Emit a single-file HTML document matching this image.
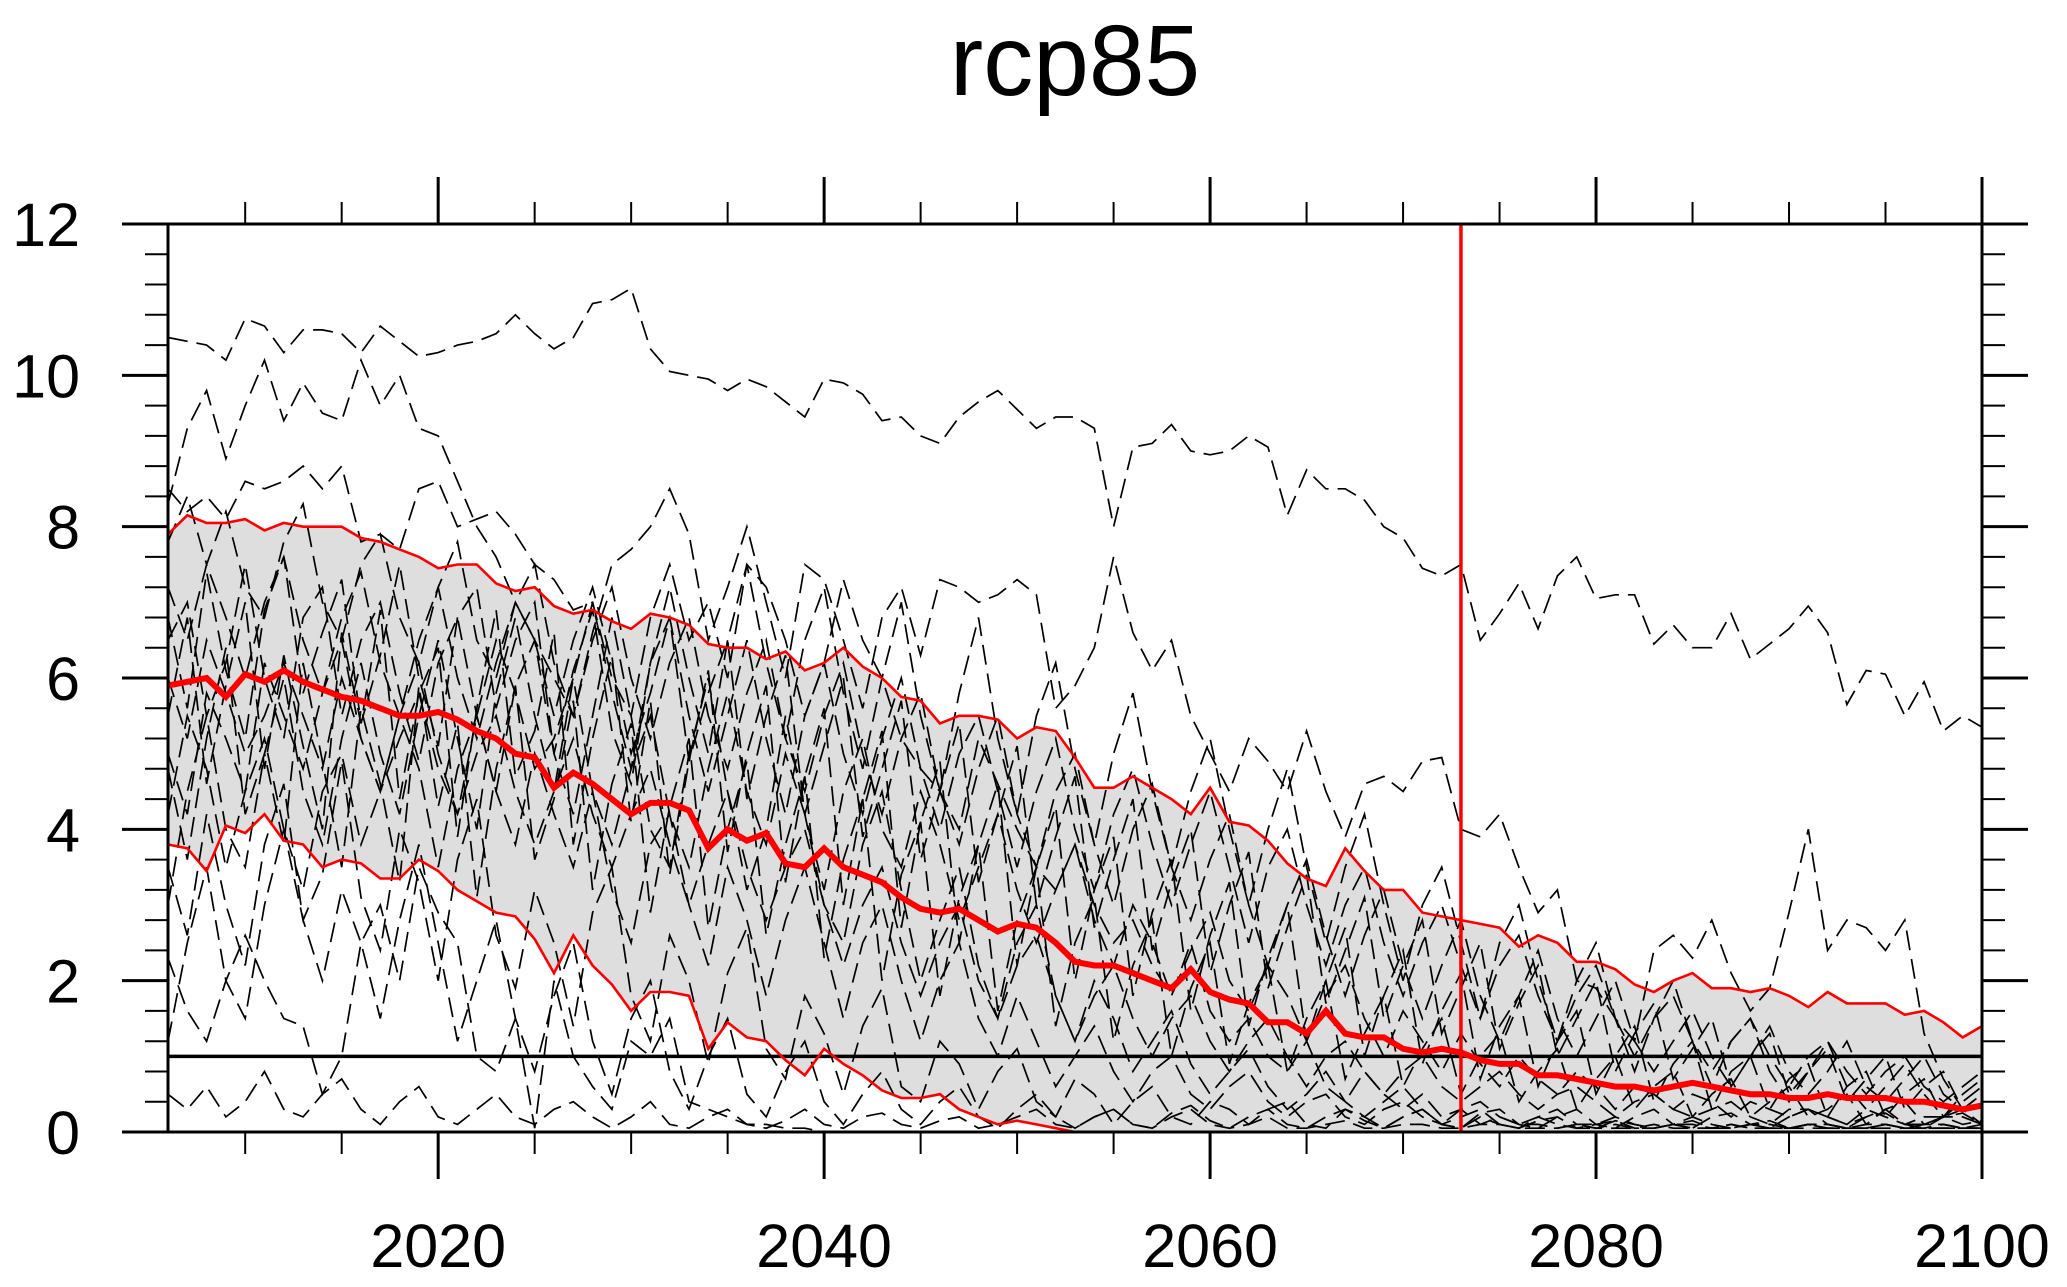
<!DOCTYPE html>
<html><head><meta charset="utf-8"><title>rcp85</title>
<style>
html,body{margin:0;padding:0;background:#fff;}
svg{display:block;font-family:"Liberation Sans",Arial,sans-serif;}
</style></head>
<body>
<svg id="chart" width="2067" height="1287" viewBox="0 0 2067 1287" xmlns="http://www.w3.org/2000/svg">
<text x="1075" y="95" font-size="100" text-anchor="middle" fill="#000">rcp85</text>
<g id="fill"></g><g id="members"></g><g id="stats"></g><g id="axes"></g>
</svg>
<script>
const startYear = 2006, endYear = 2100;
const yTicks = [0,2,4,6,8,10,12];
const xTicks = [2020,2040,2060,2080,2100];
const refValue = 1;
const refYear = 2073;
const ensMean = [5.9,5.95,6.0,5.75,6.05,5.95,6.1,5.95,5.85,5.75,5.7,5.6,5.5,5.5,5.55,5.45,5.3,5.2,5.0,4.95,4.55,4.75,4.6,4.4,4.2,4.35,4.35,4.25,3.75,4.0,3.85,3.95,3.55,3.5,3.75,3.5,3.4,3.3,3.1,2.95,2.9,2.95,2.8,2.65,2.75,2.7,2.5,2.25,2.2,2.2,2.1,2.0,1.9,2.15,1.85,1.75,1.7,1.45,1.45,1.3,1.6,1.3,1.25,1.25,1.1,1.05,1.1,1.05,0.95,0.9,0.9,0.75,0.75,0.7,0.65,0.6,0.6,0.55,0.6,0.65,0.6,0.55,0.5,0.5,0.45,0.45,0.5,0.45,0.45,0.45,0.4,0.4,0.35,0.3,0.35];
const ensUpper = [7.9,8.15,8.05,8.05,8.1,7.95,8.05,8.0,8.0,8.0,7.85,7.8,7.7,7.6,7.45,7.5,7.5,7.25,7.15,7.2,6.95,6.85,6.9,6.75,6.65,6.85,6.8,6.7,6.45,6.4,6.4,6.25,6.35,6.1,6.2,6.4,6.15,6.0,5.75,5.7,5.4,5.5,5.5,5.45,5.2,5.35,5.3,4.95,4.55,4.55,4.7,4.55,4.4,4.2,4.55,4.1,4.05,3.85,3.55,3.35,3.25,3.75,3.45,3.2,3.2,2.9,2.85,2.8,2.75,2.7,2.45,2.6,2.5,2.25,2.25,2.15,1.95,1.85,2.0,2.1,1.9,1.9,1.85,1.9,1.8,1.65,1.85,1.7,1.7,1.7,1.55,1.6,1.45,1.25,1.4];
const ensLower = [3.8,3.75,3.45,4.05,3.95,4.2,3.85,3.8,3.5,3.6,3.55,3.35,3.35,3.6,3.45,3.2,3.05,2.9,2.85,2.55,2.1,2.6,2.2,1.95,1.6,1.85,1.85,1.8,1.1,1.45,1.25,1.2,0.95,0.75,1.1,0.9,0.75,0.55,0.45,0.45,0.5,0.3,0.2,0.1,0.15,0.1,0.05,0,0,0,0,0,0,0,0,0,0,0,0,0,0,0,0,0,0,0,0,0,0,0,0,0,0,0,0,0,0,0,0,0,0,0,0,0,0,0,0,0,0,0,0,0,0,0,0];
const member1 = [10.5,10.45,10.4,10.2,10.75,10.65,10.3,10.6,10.6,10.55,10.3,10.65,10.45,10.25,10.3,10.4,10.45,10.55,10.8,10.55,10.35,10.5,10.95,11.0,11.15,10.35,10.05,10.0,9.95,9.8,9.95,9.85,9.65,9.45,9.95,9.9,9.75,9.4,9.45,9.2,9.1,9.45,9.65,9.8,9.55,9.3,9.45,9.45,9.3,8.0,9.05,9.1,9.35,9.0,8.95,9.0,9.2,9.05,8.15,8.75,8.5,8.5,8.35,8.0,7.85,7.45,7.35,7.5,6.5,6.85,7.25,6.65,7.35,7.6,7.05,7.1,7.1,6.45,6.7,6.4,6.4,6.85,6.25,6.45,6.65,6.95,6.6,5.65,6.1,6.05,5.5,5.95,5.3,5.5,5.35];
const member2 = [8.3,9.3,9.8,8.9,9.6,10.2,9.4,9.9,9.5,9.4,10.2,9.6,10.0,9.3,9.2,8.6,8.0,7.6,7.0,6.5,6.0,5.5,6.6,7.5,7.7,8.0,8.5,7.9,6.5,7.2,8.0,7.0,6.0,7.5,7.3,6.5,5.6,6.8,7.2,6.3,7.3,7.2,7.0,7.1,7.3,7.1,5.6,5.9,6.4,7.6,6.6,6.1,6.5,5.5,5.0,4.5,5.2,4.9,4.5,5.3,4.5,3.9,4.6,4.7,4.5,4.9,4.95,4.0,3.9,4.2,3.5,2.9,3.2,2.0,1.9,1.5,1.2,2.4,2.6,2.3,2.8,2.1,1.6,1.9,2.9,4.0,2.4,2.8,2.7,2.4,2.8,1.3,0.7,0.3,0.1];
const member3 = [8.5,8.2,8.4,8.1,8.6,8.5,8.6,8.8,8.5,8.8,7.8,7.9,7.7,8.5,8.6,8.0,8.1,8.2,7.9,7.5,7.3,6.9,7.0,6.0,5.5,6.8,7.5,6.5,7.0,6.0,7.5,7.2,6.5,5.5,6.2,7.3,6.5,6.0,5.2,4.8,4.5,4.0,5.2,4.6,4.0,3.5,3.2,3.8,3.0,2.5,2.8,2.2,1.8,2.5,1.6,1.2,1.5,1.0,0.8,1.2,0.6,0.4,0.8,0.5,0.3,0.5,0.2,0.3,0.1,0.2,0.1,0.1,0.05,0.1,0.05,0.1,0.05,0.05,0.1,0.05,0.05,0.1,0.05,0.05,0.05,0.1,0.05,0.05,0.05,0.1,0.05,0.05,0.05,0.05,0.05];
const member4 = [2.3,1.6,1.2,2.0,2.6,2.0,1.5,1.4,0.5,1.0,2.5,3.0,2.0,3.5,2.9,2.5,1.0,0.8,1.5,0.05,2.0,1.0,0.6,0.3,1.2,1.0,1.5,0.4,0.3,0.2,0.1,0.1,0.05,0.05,0,0,0,0,0,0,0,0,0,0,0,0,0,0,0,0,0,0,0,0,0,0,0,0,0,0,0,0,0,0,0,0,0,0,0,0,0,0,0,0,0,0,0,0,0,0,0,0,0,0,0,0,0,0,0,0,0,0,0,0,0];
const member5 = [6.5,7.0,5.5,6.2,7.5,6.0,5.2,6.8,7.2,5.5,6.5,7.0,5.8,4.9,6.2,6.8,5.5,4.5,5.9,6.5,5.0,4.2,5.5,6.8,5.5,4.0,3.5,5.0,6.0,4.5,3.2,4.0,5.5,4.2,3.0,2.5,3.8,4.5,3.2,2.0,2.8,3.5,2.2,1.5,2.5,3.0,1.8,1.2,2.0,1.5,0.8,1.2,1.6,0.9,0.5,0.8,1.1,0.6,0.3,0.5,0.8,0.4,0.2,0.4,0.6,0.3,0.1,0.3,0.4,0.2,0.1,0.2,0.3,0.1,0.1,0.2,0.1,0.05,0.1,0.2,0.1,0.05,0.1,0.15,0.05,0.1,0.1,0.05,0.1,0.1,0.05,0.1,0.1,0.05,0.1];
const member6 = [5.0,4.2,5.8,5.2,4.5,6.2,5.5,4.8,5.8,6.5,5.2,4.5,5.5,6.2,5.0,4.2,5.5,6.5,5.8,4.8,5.2,6.0,4.5,3.8,4.8,5.5,4.2,3.5,4.8,5.8,4.5,3.8,5.0,4.2,3.2,4.5,5.2,4.0,3.5,4.5,3.8,2.8,3.5,4.2,3.2,2.5,3.2,3.8,2.8,2.2,3.0,2.5,1.8,2.4,2.9,2.0,1.6,2.2,1.8,1.2,1.8,2.2,1.5,1.0,1.6,1.2,0.8,1.3,0.9,0.6,1.0,0.7,0.5,0.8,0.6,0.3,0.6,0.5,0.3,0.5,0.4,0.2,0.4,0.3,0.2,0.3,0.2,0.1,0.3,0.2,0.1,0.2,0.2,0.1,0.15];
const member7 = [4.2,5.5,4.8,3.5,4.5,5.2,4.0,3.2,4.5,5.0,3.8,4.5,5.5,4.8,3.5,4.8,5.5,4.5,3.8,5.0,4.2,3.5,4.5,3.2,2.5,3.8,4.2,3.0,2.2,3.5,2.8,1.8,2.8,3.5,2.5,1.5,2.5,3.0,2.0,1.2,2.0,2.5,1.5,1.0,1.8,1.2,0.6,1.0,1.4,0.8,0.4,0.8,1.0,0.5,0.3,0.6,0.8,0.4,0.2,0.4,0.5,0.2,0.1,0.3,0.4,0.2,0.1,0.2,0.3,0.1,0.05,0.2,0.1,0.05,0.1,0.15,0.05,0.05,0.1,0.1,0.05,0.05,0.1,0.05,0.05,0.1,0.05,0.05,0.05,0.1,0.05,0.05,0.05,0.05,0.05];
const member8 = [7.2,6.5,7.5,6.8,6.0,7.0,7.6,6.5,5.8,6.8,7.4,6.2,5.5,6.5,7.2,6.0,5.2,6.2,7.0,6.5,5.5,6.5,7.2,6.2,5.0,5.8,6.8,5.5,4.5,5.5,6.5,5.2,4.2,5.5,6.2,5.0,4.2,5.2,6.0,4.8,4.0,5.0,5.5,4.5,3.5,4.5,5.2,4.0,3.2,4.2,4.8,3.8,3.0,3.8,4.5,3.5,2.5,3.5,4.0,3.0,2.2,3.0,3.5,2.5,1.8,2.5,3.0,2.2,1.5,2.2,2.6,1.8,1.2,1.8,2.2,1.5,1.0,1.5,1.8,1.2,0.8,1.2,1.5,1.0,0.6,1.0,1.2,0.8,0.5,0.8,1.0,0.6,0.4,0.6,0.8];
const member9 = [3.0,4.5,5.5,4.0,3.5,5.0,6.0,4.5,3.8,5.2,6.2,5.0,4.2,5.5,6.5,5.2,4.0,5.8,6.8,5.5,4.5,6.0,7.0,5.8,4.8,6.2,7.2,6.0,5.0,6.5,7.5,6.2,5.2,6.5,7.2,5.8,4.8,6.0,7.0,5.5,4.5,5.8,6.8,5.2,4.2,5.5,6.2,4.8,3.8,5.0,5.8,4.5,3.5,4.5,5.2,4.0,3.0,4.0,4.8,3.5,2.5,3.5,4.2,3.0,2.0,3.0,3.5,2.5,1.5,2.5,3.0,2.0,1.2,2.0,2.5,1.5,0.8,1.5,2.0,1.2,0.6,1.2,1.5,0.8,0.4,0.8,1.2,0.6,0.3,0.6,0.9,0.5,0.2,0.5,0.7];
const member10 = [6.0,5.2,6.5,5.8,5.0,5.5,6.2,5.5,4.8,6.0,5.2,4.5,5.2,5.8,4.8,4.2,5.0,5.5,4.5,3.8,4.5,5.2,4.2,3.5,4.2,4.8,3.8,3.0,3.8,4.5,3.5,2.8,3.5,4.0,3.0,2.2,3.0,3.5,2.5,1.8,2.5,3.0,2.0,1.5,2.2,2.6,1.8,1.2,1.8,2.2,1.5,1.0,1.5,1.8,1.2,0.8,1.2,1.5,1.0,0.6,1.0,1.2,0.8,0.5,0.8,1.0,0.6,0.4,0.6,0.8,0.5,0.3,0.5,0.6,0.4,0.2,0.4,0.5,0.3,0.2,0.3,0.4,0.2,0.1,0.3,0.3,0.2,0.1,0.2,0.3,0.1,0.1,0.2,0.2,0.1];
const member11 = [1.2,2.5,3.5,2.0,1.5,3.0,4.0,2.8,2.0,3.2,2.5,1.5,2.8,3.8,2.5,1.2,2.0,2.8,1.5,0.8,1.8,2.5,1.2,0.5,1.5,2.0,0.8,0.3,1.0,1.5,0.5,0.2,0.8,1.2,0.4,0.1,0.5,0.8,0.3,0.1,0.4,0.6,0.2,0.05,0.3,0.5,0.2,0.05,0.2,0.3,0.1,0.05,0.2,0.3,0.1,0.05,0.1,0.2,0.05,0.05,0.1,0.15,0.05,0.05,0.1,0.1,0.05,0.05,0.1,0.1,0.05,0.05,0.05,0.1,0.05,0.05,0.05,0.1,0.05,0.05,0.05,0.1,0.05,0.05,0.05,0.05,0.05,0.05,0.05,0.05,0.05,0.05,0.05,0.05,0.05];
const member12 = [7.8,8.4,7.5,8.2,7.2,6.8,7.8,8.3,7.0,6.5,7.5,7.9,6.8,6.2,7.2,7.8,6.5,6.0,7.0,7.5,6.2,5.5,6.5,7.2,6.0,5.2,6.2,6.8,5.5,4.8,5.8,6.5,5.2,4.5,5.5,6.2,5.0,4.2,5.2,5.8,4.5,3.8,4.8,5.5,4.2,3.5,4.5,5.0,3.8,3.0,4.0,4.6,3.5,2.8,3.6,4.2,3.0,2.2,3.0,3.6,2.6,1.8,2.6,3.2,2.2,1.5,2.2,2.8,1.8,1.2,1.8,2.4,1.5,1.0,1.5,2.0,1.2,0.8,1.2,1.6,1.0,0.6,1.0,1.4,0.8,0.5,0.8,1.2,0.6,0.4,0.7,1.0,0.5,0.3,0.5];
const member13 = [0.5,0.3,0.6,0.2,0.4,0.8,0.3,0.2,0.5,0.7,0.3,0.1,0.4,0.6,0.2,0.1,0.3,0.5,0.2,0.1,0.3,0.4,0.2,0.05,0.2,0.4,0.1,0.05,0.2,0.3,0.1,0.05,0.15,0.3,0.1,0.05,0.2,0.25,0.1,0.05,0.15,0.2,0.05,0.1,0.2,0.3,0.1,0.05,0.2,0.3,0.1,0.05,0.25,0.35,0.15,0.05,0.2,0.3,0.1,0.05,0.2,0.3,0.15,0.05,0.2,0.3,0.1,0.05,0.25,0.3,0.1,0.05,0.2,0.3,0.1,0.05,0.2,0.3,0.1,0.05,0.2,0.25,0.1,0.05,0.2,0.3,0.1,0.05,0.2,0.25,0.1,0.05,0.2,0.25,0.1];
const member14 = [5.5,6.8,4.6,5.9,7.0,4.8,6.3,5.1,4.0,6.6,5.4,6.9,4.4,5.8,6.4,3.9,5.6,6.9,4.7,5.3,6.6,3.8,5.2,6.3,4.1,5.7,3.4,4.9,6.1,3.7,5.0,5.9,3.3,4.7,5.6,3.0,4.4,5.3,2.7,4.1,4.9,2.5,3.8,4.6,2.2,3.5,4.3,2.0,3.2,3.9,1.8,2.9,3.6,1.6,2.6,3.3,1.4,2.3,3.0,1.2,2.0,2.7,1.0,1.8,2.4,0.9,1.6,2.1,0.7,1.4,1.8,0.6,1.2,1.6,0.5,1.0,1.4,0.4,0.9,1.2,0.3,0.8,1.0,0.3,0.7,0.9,0.2,0.6,0.8,0.2,0.5,0.7,0.2,0.4,0.6];
const member15 = [4.8,3.6,5.2,6.4,4.2,5.0,3.8,6.2,4.9,3.5,5.6,4.6,3.3,5.9,4.3,5.4,3.1,4.8,5.9,3.6,4.4,5.7,3.2,4.6,5.4,2.9,4.3,5.2,2.7,4.0,4.9,2.6,3.8,4.7,2.3,3.6,4.4,2.0,3.4,4.1,1.8,3.1,3.8,1.6,2.8,3.5,1.4,2.5,3.1,1.2,2.2,2.8,1.0,1.9,2.5,0.9,1.7,2.2,0.8,1.5,2.0,0.7,1.3,1.8,0.6,1.1,1.5,0.5,1.0,1.3,0.4,0.8,1.1,0.3,0.7,1.0,0.3,0.6,0.8,0.2,0.5,0.7,0.2,0.4,0.6,0.2,0.3,0.5,0.1,0.3,0.4,0.1,0.2,0.3,0.1];
const member16 = [6.8,5.6,7.4,6.1,5.2,6.9,7.6,5.8,6.6,7.3,5.4,6.3,7.5,6.0,5.1,6.8,7.2,5.6,6.5,7.0,5.0,6.1,6.9,5.3,4.6,6.2,6.8,4.9,5.8,6.5,4.4,5.5,6.3,4.2,5.1,6.0,3.9,4.8,5.7,3.6,4.5,5.4,3.3,4.2,5.1,3.0,3.9,4.7,2.7,3.6,4.4,2.4,3.3,4.0,2.1,3.0,3.7,1.9,2.7,3.4,1.7,2.4,3.1,1.5,2.2,2.8,1.3,1.9,2.5,1.1,1.7,2.2,1.0,1.5,2.0,0.8,1.3,1.7,0.7,1.1,1.5,0.6,1.0,1.3,0.5,0.8,1.1,0.4,0.7,1.0,0.3,0.6,0.8,0.3,0.5];
const member17 = [3.5,2.6,4.2,3.0,2.2,3.8,4.6,2.8,3.4,4.9,3.1,2.4,4.0,3.3,2.0,3.6,4.4,2.6,1.9,3.2,2.5,1.4,2.9,3.5,1.8,1.2,2.6,2.0,0.9,2.1,2.7,1.1,0.7,1.8,1.3,0.5,1.4,1.9,0.6,0.4,1.2,0.9,0.3,0.8,1.1,0.4,0.2,0.7,0.5,0.1,0.4,0.6,0.2,0.1,0.4,0.3,0.1,0.3,0.4,0.1,0.05,0.3,0.2,0.05,0.2,0.3,0.1,0.05,0.2,0.1,0.05,0.15,0.2,0.05,0.05,0.15,0.1,0.05,0.1,0.15,0.05,0.05,0.1,0.1,0.05,0.1,0.1,0.05,0.05,0.1,0.05,0.05,0.1,0.05,0.05];
const members = [member1,member2,member3,member4,member5,member6,member7,member8,member9,member10,member11,member12,member13,member14,member15,member16,member17];

const NS = "http://www.w3.org/2000/svg";
const L = 168, R = 1982, T = 224, B = 1132, yMax = 12;
function xs(yr){ return L + (yr - startYear) * (R - L) / (endYear - startYear); }
function ys(v){ return B - v * (B - T) / yMax; }
function mk(tag, attrs, parent){
  const e = document.createElementNS(NS, tag);
  for (const k in attrs) e.setAttribute(k, attrs[k]);
  parent.appendChild(e); return e;
}
function pts(arr){ return arr.map((v,i)=>xs(startYear+i).toFixed(1)+","+ys(v).toFixed(1)).join(" "); }

const fillG = document.getElementById('fill');
const up = ensUpper.map((v,i)=>xs(startYear+i).toFixed(1)+","+ys(v).toFixed(1));
const lo = ensLower.map((v,i)=>xs(startYear+i).toFixed(1)+","+ys(v).toFixed(1)).reverse();
const band = mk('polygon', {points: up.concat(lo).join(" "), fill:"#dedede", stroke:"none"}, fillG);



const memG = document.getElementById('members');
members.forEach((m, k)=>{
  const p = mk('polyline', {points: pts(m), fill:"none", stroke:"#000", "stroke-width":"1.7", "stroke-dasharray":"20 9"}, memG);
  
  
});

const stG = document.getElementById('stats');
const ref = mk('line', {x1:L, x2:R, y1:ys(refValue), y2:ys(refValue), stroke:"#000", "stroke-width":"3.5"}, stG);


const pu = mk('polyline', {points: pts(ensUpper), fill:"none", stroke:"#ff0000", "stroke-width":"2.6"}, stG);


const pl = mk('polyline', {points: pts(ensLower), fill:"none", stroke:"#ff0000", "stroke-width":"2.6"}, stG);


const pm = mk('polyline', {points: pts(ensMean), fill:"none", stroke:"#ff0000", "stroke-width":"6"}, stG);


const vl = mk('line', {x1:xs(refYear), x2:xs(refYear), y1:T, y2:B, stroke:"#ff0000", "stroke-width":"3.5"}, stG);



const ax = document.getElementById('axes');
const frame = mk('rect', {x:L, y:T, width:R-L, height:B-T, fill:"none", stroke:"#000", "stroke-width":"3"}, ax);


for (let v = 0; v <= yMax + 0.001; v += 0.4){
  const major = Math.abs(v/2 - Math.round(v/2)) < 0.01;
  const len = major ? 46 : 23;
  const y = ys(v);
  const a = mk('line', {x1:L-len, x2:L, y1:y, y2:y, stroke:"#000", "stroke-width": major?3:2}, ax);
  
  
  const b = mk('line', {x1:R, x2:R+len, y1:y, y2:y, stroke:"#000", "stroke-width": major?3:2}, ax);
  
  
}
yTicks.forEach(v=>{
  const t = mk('text', {x:80, y:ys(v)+22, "font-size":"61", "text-anchor":"end", fill:"#000"}, ax);
  t.textContent = v;
  
  
});
for (let yr = 2010; yr <= endYear; yr += 5){
  const major = yr % 20 === 0;
  const len = major ? 47 : 22;
  const x = xs(yr);
  const a = mk('line', {x1:x, x2:x, y1:B, y2:B+len, stroke:"#000", "stroke-width": major?3:2}, ax);
  
  
  const b = mk('line', {x1:x, x2:x, y1:T-len, y2:T, stroke:"#000", "stroke-width": major?3:2}, ax);
  
  
}
xTicks.forEach(yr=>{
  const t = mk('text', {x:xs(yr), y:1267, "font-size":"61", "text-anchor":"middle", fill:"#000"}, ax);
  t.textContent = yr;
  
  
});
</script>
</body></html>
